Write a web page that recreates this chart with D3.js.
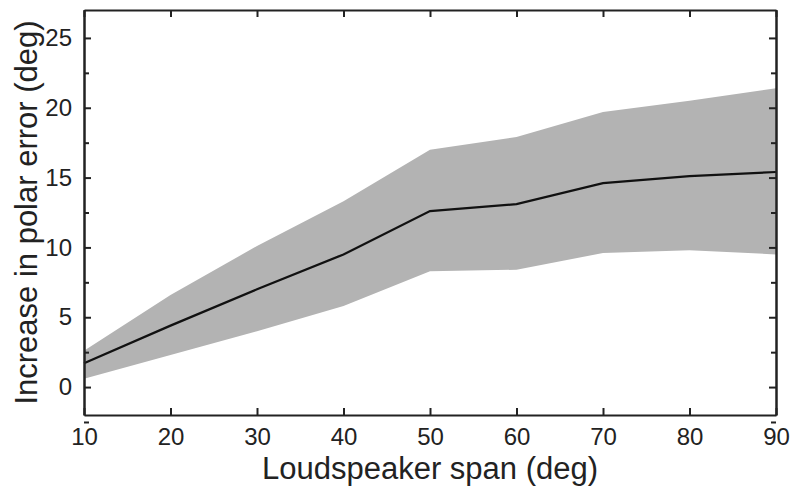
<!DOCTYPE html>
<html>
<head>
<meta charset="utf-8">
<script src="https://cdn.jsdelivr.net/npm/d3@7"></script>
<style>
  body { margin: 0; background: #fff; }
  text { font-family: "Liberation Sans", Arial, sans-serif; fill: #222; }
</style>
</head>
<body>
<svg id="chart" width="800" height="490"></svg>
<script>
// Loudspeaker span (deg)
const spans = [10, 20, 30, 40, 50, 60, 70, 80, 90];
// Mean increase in polar error (deg)
const meanError = [1.7, 4.4, 7.0, 9.5, 12.6, 13.1, 14.6, 15.1, 15.4];
// Band limits
const upperError = [2.6, 6.6, 10.1, 13.3, 17.0, 17.9, 19.7, 20.5, 21.4];
const lowerError = [0.6, 2.3, 4.0, 5.8, 8.3, 8.4, 9.6, 9.8, 9.5];

const xTicks = [10, 20, 30, 40, 50, 60, 70, 80, 90];
const yTicks = [0, 5, 10, 15, 20, 25];
const yMinor = [-2.5, 2.5, 7.5, 12.5, 17.5, 22.5];

const margin = { left: 84, right: 24, top: 10, bottom: 75 };
const width = 800, height = 490;

const svg = d3.select("#chart");

const x = d3.scaleLinear()
    .domain([10, 90])
    .range([margin.left, width - margin.right]);

const y = d3.scaleLinear()
    .domain([-2, 27])
    .range([height - margin.bottom, margin.top]);

const data = spans.map((s, i) => ({ s, m: meanError[i], hi: upperError[i], lo: lowerError[i] }));

// Shaded band
svg.append("path")
    .datum(data)
    .attr("fill", "#b3b3b3")
    .attr("d", d3.area()
        .x(d => x(d.s))
        .y0(d => y(d.lo))
        .y1(d => y(d.hi)));

// Mean line
svg.append("path")
    .datum(data)
    .attr("fill", "none")
    .attr("stroke", "#111")
    .attr("stroke-width", 2.2)
    .attr("d", d3.line()
        .x(d => x(d.s))
        .y(d => y(d.m)));

// Axes: ticks pointing inward, matlab style box
const tickLen = 7;
const minorLen = 5;

const xBottom = svg.append("g")
    .attr("transform", `translate(0,${y.range()[0]})`)
    .call(d3.axisBottom(x).tickValues(xTicks).tickSizeInner(-tickLen).tickSizeOuter(0).tickPadding(13));

const xTop = svg.append("g")
    .attr("transform", `translate(0,${y.range()[1]})`)
    .call(d3.axisTop(x).tickValues(xTicks).tickSizeInner(-tickLen).tickSizeOuter(0).tickFormat(""));

const yLeft = svg.append("g")
    .attr("transform", `translate(${x.range()[0]},0)`)
    .call(d3.axisLeft(y).tickValues(yTicks).tickSizeInner(-tickLen).tickSizeOuter(0).tickPadding(12));

const yRight = svg.append("g")
    .attr("transform", `translate(${x.range()[1]},0)`)
    .call(d3.axisRight(y).tickValues(yTicks).tickSizeInner(-tickLen).tickSizeOuter(0).tickFormat(""));

const yLeftMinor = svg.append("g")
    .attr("transform", `translate(${x.range()[0]},0)`)
    .call(d3.axisLeft(y).tickValues(yMinor).tickSizeInner(-minorLen).tickSizeOuter(0).tickFormat(""));

const yRightMinor = svg.append("g")
    .attr("transform", `translate(${x.range()[1]},0)`)
    .call(d3.axisRight(y).tickValues(yMinor).tickSizeInner(-minorLen).tickSizeOuter(0).tickFormat(""));

[xBottom, xTop, yLeft, yRight, yLeftMinor, yRightMinor].forEach(g => {
    g.selectAll("path.domain").attr("stroke", "#222").attr("stroke-width", 2);
    g.selectAll(".tick line").attr("stroke", "#222").attr("stroke-width", 2);
    g.selectAll(".tick text")
        .style("font-size", "24px")
        .style("font-family", "'Liberation Sans', Arial, sans-serif")
        .attr("fill", "#222");
});

// Axis labels
svg.append("text")
    .attr("x", (x.range()[0] + x.range()[1]) / 2)
    .attr("y", 479)
    .attr("text-anchor", "middle")
    .style("font-size", "31px")
    .text("Loudspeaker span (deg)");

svg.append("text")
    .attr("transform", `translate(37,${(y.range()[0] + y.range()[1]) / 2}) rotate(-90)`)
    .attr("text-anchor", "middle")
    .style("font-size", "31px")
    .text("Increase in polar error (deg)");
</script>
</body>
</html>
